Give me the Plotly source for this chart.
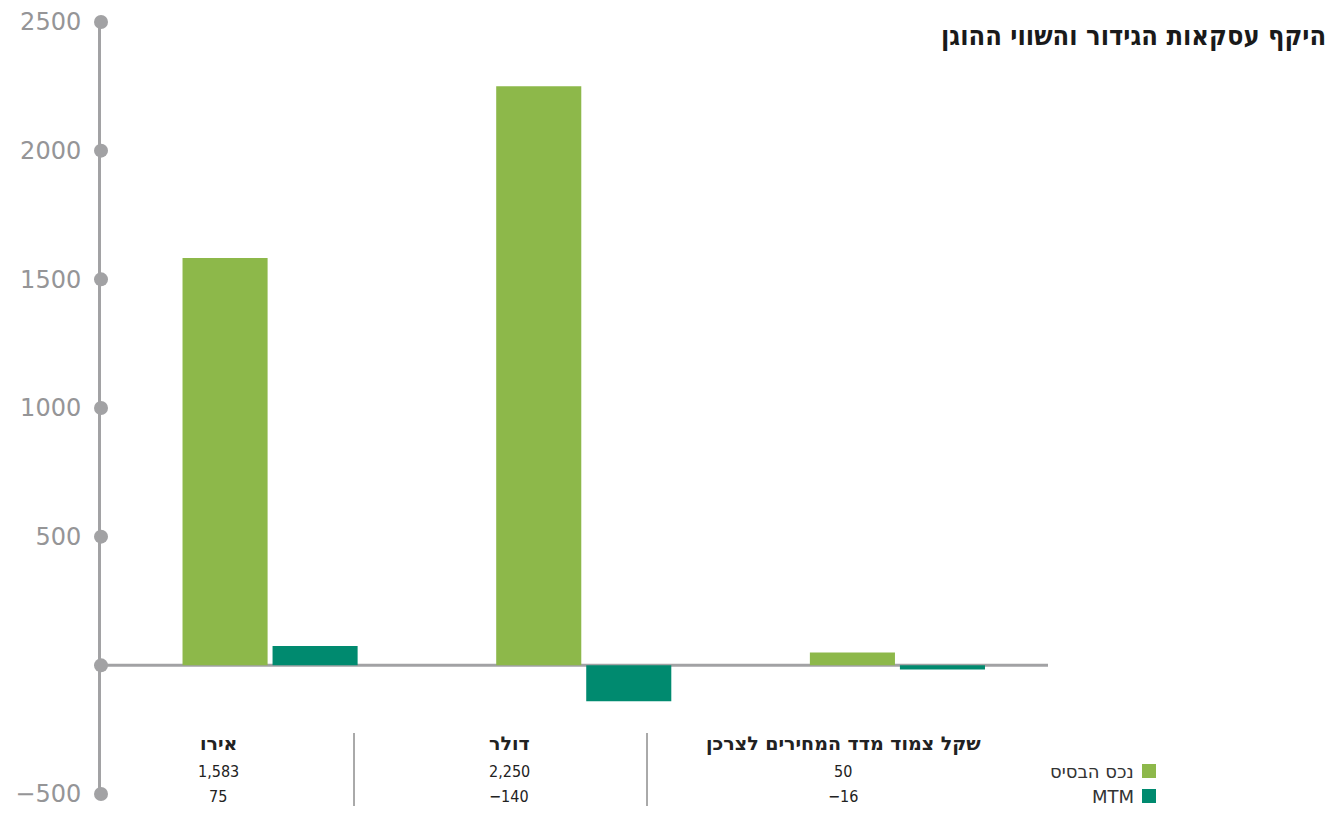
import plotly.graph_objects as go

# ---- data ----
categories = ["אירו", "דולר", "שקל צמוד מדד המחירים לצרכן"]
series_names = ["נכס הבסיס", "MTM"]
base_asset = [1583, 2250, 50]
mtm = [75, -140, -16]
y_ticks = [-500, 0, 500, 1000, 1500, 2000, 2500]
y_tick_labels = ["\u2212500", "", "500", "1000", "1500", "2000", "2500"]
title_text = "היקף עסקאות הגידור והשווי ההוגן"

GREEN = "#8db84a"
TEAL = "#008a6f"
GREY = "#a2a2a4"
COND = "DejaVu Sans Condensed"
SANS = "DejaVu Sans"

# rendered figure frame within the screenshot (body margin 8px)
OX, OY, FW, FH = 8, 8, 1325, 799
# plot area in screenshot pixels
PX0, PX1, PY0, PY1 = 101, 1048, 22, 794
L = PX0 - OX
R = FW - (PX1 - OX)
T = PY0 - OY
B = FH - (PY1 - OY)
pw, ph = PX1 - PX0, PY1 - PY0
x_range = [-0.539, 2.48]
y_range = [-500, 2500]

def px_to_paper_x(px):
    return (px - PX0) / pw

def px_to_paper_y(py):
    return (PY1 - py) / ph

xs = list(range(len(categories)))

fig = go.Figure()
fig.add_trace(go.Bar(x=xs, y=base_asset, name=series_names[0], marker=dict(color=GREEN, line=dict(width=0))))
fig.add_trace(go.Bar(x=xs, y=mtm, name=series_names[1], marker=dict(color=TEAL, line=dict(width=0))))

# axis dots
fig.add_trace(go.Scatter(x=[x_range[0]] * len(y_ticks), y=y_ticks, mode="markers",
                         marker=dict(color=GREY, size=14), cliponaxis=False,
                         showlegend=False, hoverinfo="skip"))

shapes = []
# zero line
shapes.append(dict(type="line", xref="paper", yref="y", x0=0, x1=1, y0=0, y1=0,
                   line=dict(color=GREY, width=3), layer="below"))
# table separators
for sx in [354, 647]:
    shapes.append(dict(type="line", xref="paper", yref="paper",
                       x0=px_to_paper_x(sx), x1=px_to_paper_x(sx),
                       y0=px_to_paper_y(733), y1=px_to_paper_y(806),
                       line=dict(color="#555555", width=1)))

annotations = []
col_px = [218, 509, 843]
row_px = [743, 771, 796]

def ann(px, py, text, font, xanchor="center"):
    return dict(xref="paper", yref="paper", x=px_to_paper_x(px), y=px_to_paper_y(py),
                xanchor=xanchor, yanchor="middle", text=text, showarrow=False, font=font)

for i, cat in enumerate(categories):
    annotations.append(ann(col_px[i], row_px[0], "<b>%s</b>" % cat,
                           dict(family=SANS, size=19, color="#222222")))
    annotations.append(ann(col_px[i], row_px[1], "{:,}".format(base_asset[i]),
                           dict(family=COND, size=16, color="#222222")))
    annotations.append(ann(col_px[i], row_px[2], "{:,}".format(mtm[i]).replace("-", "\u2212"),
                           dict(family=COND, size=16, color="#222222")))

# legend (RTL: swatch on the right)
for j, (nm, col) in enumerate(zip(series_names, [GREEN, TEAL])):
    cy = row_px[1 + j]
    shapes.append(dict(type="rect", xref="paper", yref="paper",
                       x0=px_to_paper_x(1142), x1=px_to_paper_x(1156),
                       y0=px_to_paper_y(cy + 7), y1=px_to_paper_y(cy - 7),
                       fillcolor=col, line=dict(width=0)))
    annotations.append(ann(1136, cy, nm, dict(family=SANS, size=18, color="#333333"), xanchor="right"))

# title
annotations.append(ann(1328, 36, "<b>%s</b>" % title_text,
                       dict(family=COND, size=27, color="#1a1a1a"), xanchor="right"))

fig.update_layout(
    autosize=True,
    margin=dict(l=L, r=R, t=T, b=B, autoexpand=False),
    plot_bgcolor="white", paper_bgcolor="white",
    barmode="group", bargap=0.426, bargroupgap=0.055,
    showlegend=False,
    shapes=shapes, annotations=annotations,
    xaxis=dict(range=x_range, showgrid=False, zeroline=False, showticklabels=False,
               showline=False, fixedrange=True, automargin=False),
    yaxis=dict(range=y_range, showgrid=False, zeroline=False, showline=True, linecolor=GREY, linewidth=3,
               tickmode="array", tickvals=y_ticks, ticktext=y_tick_labels,
               ticks="outside", ticklen=0, ticklabelstandoff=12, automargin=False,
               ticklabeloverflow="allow",
               tickfont=dict(family=SANS, size=24, color="#959597")),
)

fig.write_html("out.html")
